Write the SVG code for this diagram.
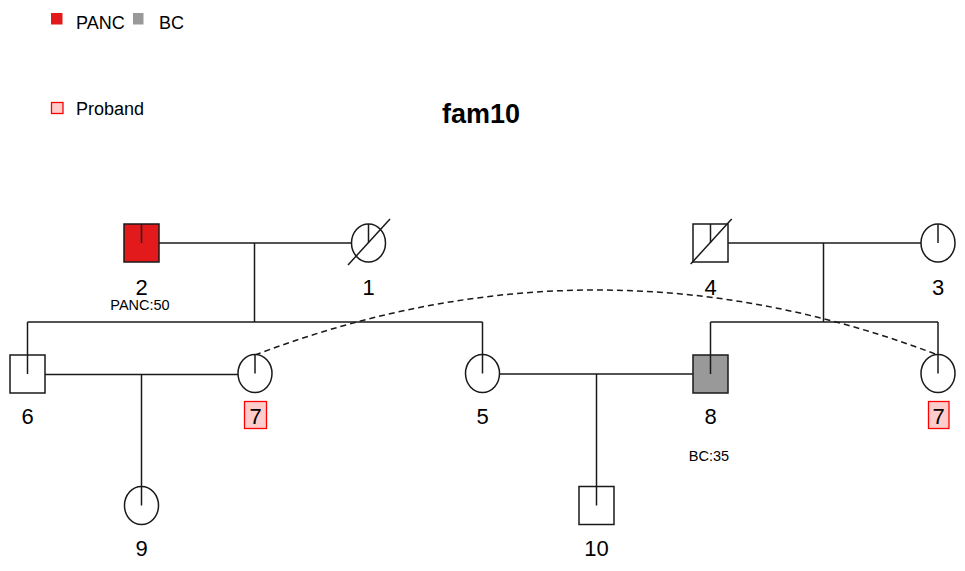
<svg xmlns="http://www.w3.org/2000/svg" width="965" height="571" viewBox="0 0 965 571">
<style>
  text { font-family: "Liberation Sans", Arial, sans-serif; fill: #000; }
  .lbl { font-size: 22px; text-anchor: middle; }
  .sm { font-size: 14.5px; text-anchor: middle; }
  .leg { font-size: 18px; }
  .title { font-size: 27px; font-weight: bold; text-anchor: middle; }
  .sym { fill: #fff; stroke: #1a1a1a; stroke-width: 1.5; }
  .ln { fill: none; stroke: #1a1a1a; stroke-width: 1.5; }
  .dash { fill: none; stroke: #1a1a1a; stroke-width: 1.5; stroke-dasharray: 6 4; }
  .pb { fill: #FFCCCC; stroke: #FF0000; stroke-width: 1.3; }
</style>
<rect width="965" height="571" fill="#fff"/>

<!-- legend -->
<g id="legend">
  <rect x="51" y="13" width="11.5" height="11.5" fill="#E31A1C"/>
  <text class="leg" x="76" y="28.5">PANC</text>
  <rect x="133" y="13" width="10.5" height="11.5" fill="#999999"/>
  <text class="leg" x="159" y="28.5">BC</text>
  <rect x="51.5" y="102.5" width="11.5" height="11" class="pb"/>
  <text class="leg" x="76" y="115">Proband</text>
</g>

<text class="title" x="481" y="123">fam10</text>

<!-- connectors -->
<g id="connectors">
  <line class="ln" x1="159" y1="243" x2="351.5" y2="243"/>
  <line class="ln" x1="254.5" y1="243" x2="254.5" y2="322"/>
  <line class="ln" x1="27.5" y1="322" x2="482.5" y2="322"/>
  <line class="ln" x1="27.5" y1="322" x2="27.5" y2="374.5"/>
  <line class="ln" x1="482.5" y1="322" x2="482.5" y2="373.5"/>
  <line class="ln" x1="728" y1="243" x2="921" y2="243"/>
  <line class="ln" x1="823.5" y1="243" x2="823.5" y2="322"/>
  <line class="ln" x1="710.5" y1="322" x2="938" y2="322"/>
  <line class="ln" x1="710.5" y1="322" x2="710.5" y2="374"/>
  <line class="ln" x1="938" y1="322" x2="938" y2="373.5"/>
  <line class="ln" x1="45" y1="374.5" x2="238" y2="374.5"/>
  <line class="ln" x1="141.5" y1="374.5" x2="141.5" y2="505.5"/>
  <line class="ln" x1="499.5" y1="374" x2="693" y2="374"/>
  <line class="ln" x1="596.5" y1="374" x2="596.5" y2="505.5"/>
  <path class="dash" d="M255,355 Q596.5,225 938,355"/>
</g>

<!-- nodes -->
<g id="n2">
  <rect x="124" y="224" width="35" height="38" fill="#E31A1C" stroke="#1a1a1a" stroke-width="1.5"/>
  <line class="ln" x1="141.5" y1="224" x2="141.5" y2="243"/>
  <text class="lbl" x="141.5" y="294.5">2</text>
  <text class="sm" x="140" y="309.5">PANC:50</text>
</g>
<g id="n1">
  <ellipse class="sym" cx="368.5" cy="243" rx="17" ry="19"/>
  <line class="ln" x1="368.5" y1="224" x2="368.5" y2="243"/>
  <line class="ln" x1="348" y1="265" x2="390" y2="219" stroke-width="1.2"/>
  <text class="lbl" x="368.5" y="294.5">1</text>
</g>
<g id="n4">
  <rect class="sym" x="693" y="224" width="35" height="38"/>
  <line class="ln" x1="710.5" y1="224" x2="710.5" y2="243"/>
  <line class="ln" x1="690.7" y1="264" x2="731.7" y2="219" stroke-width="1.2"/>
  <text class="lbl" x="710.5" y="294.5">4</text>
</g>
<g id="n3">
  <ellipse class="sym" cx="938" cy="243" rx="17" ry="19"/>
  <line class="ln" x1="938" y1="224" x2="938" y2="243"/>
  <text class="lbl" x="938" y="294.5">3</text>
</g>
<g id="n6">
  <rect class="sym" x="10" y="355" width="35" height="38"/>
  <line class="ln" x1="27.5" y1="355" x2="27.5" y2="374"/>
  <text class="lbl" x="27.5" y="424">6</text>
</g>
<g id="n7a">
  <ellipse class="sym" cx="255" cy="373.5" rx="17" ry="19"/>
  <line class="ln" x1="255" y1="354.5" x2="255" y2="373.5"/>
  <rect class="pb" x="244.5" y="401.5" width="22" height="27"/>
  <text class="lbl" x="255.5" y="424">7</text>
</g>
<g id="n5">
  <ellipse class="sym" cx="482.5" cy="373.5" rx="17" ry="19"/>
  <line class="ln" x1="482.5" y1="354.5" x2="482.5" y2="373.5"/>
  <text class="lbl" x="482.5" y="424">5</text>
</g>
<g id="n8">
  <rect x="693" y="355" width="35" height="38" fill="#999999" stroke="#1a1a1a" stroke-width="1.5"/>
  <line class="ln" x1="710.5" y1="355" x2="710.5" y2="374"/>
  <text class="lbl" x="710.5" y="424">8</text>
  <text class="sm" x="709" y="460.5">BC:35</text>
</g>
<g id="n7b">
  <ellipse class="sym" cx="938" cy="373.5" rx="17" ry="19"/>
  <line class="ln" x1="938" y1="354.5" x2="938" y2="373.5"/>
  <rect class="pb" x="928.5" y="401.5" width="20.5" height="27"/>
  <text class="lbl" x="938.5" y="424">7</text>
</g>
<g id="n9">
  <ellipse class="sym" cx="141.5" cy="505.5" rx="17" ry="19"/>
  <line class="ln" x1="141.5" y1="486.5" x2="141.5" y2="505.5"/>
  <text class="lbl" x="141.5" y="556">9</text>
</g>
<g id="n10">
  <rect class="sym" x="579" y="486.5" width="35" height="38"/>
  <line class="ln" x1="596.5" y1="486.5" x2="596.5" y2="505.5"/>
  <text class="lbl" x="596.5" y="556">10</text>
</g>
</svg>
